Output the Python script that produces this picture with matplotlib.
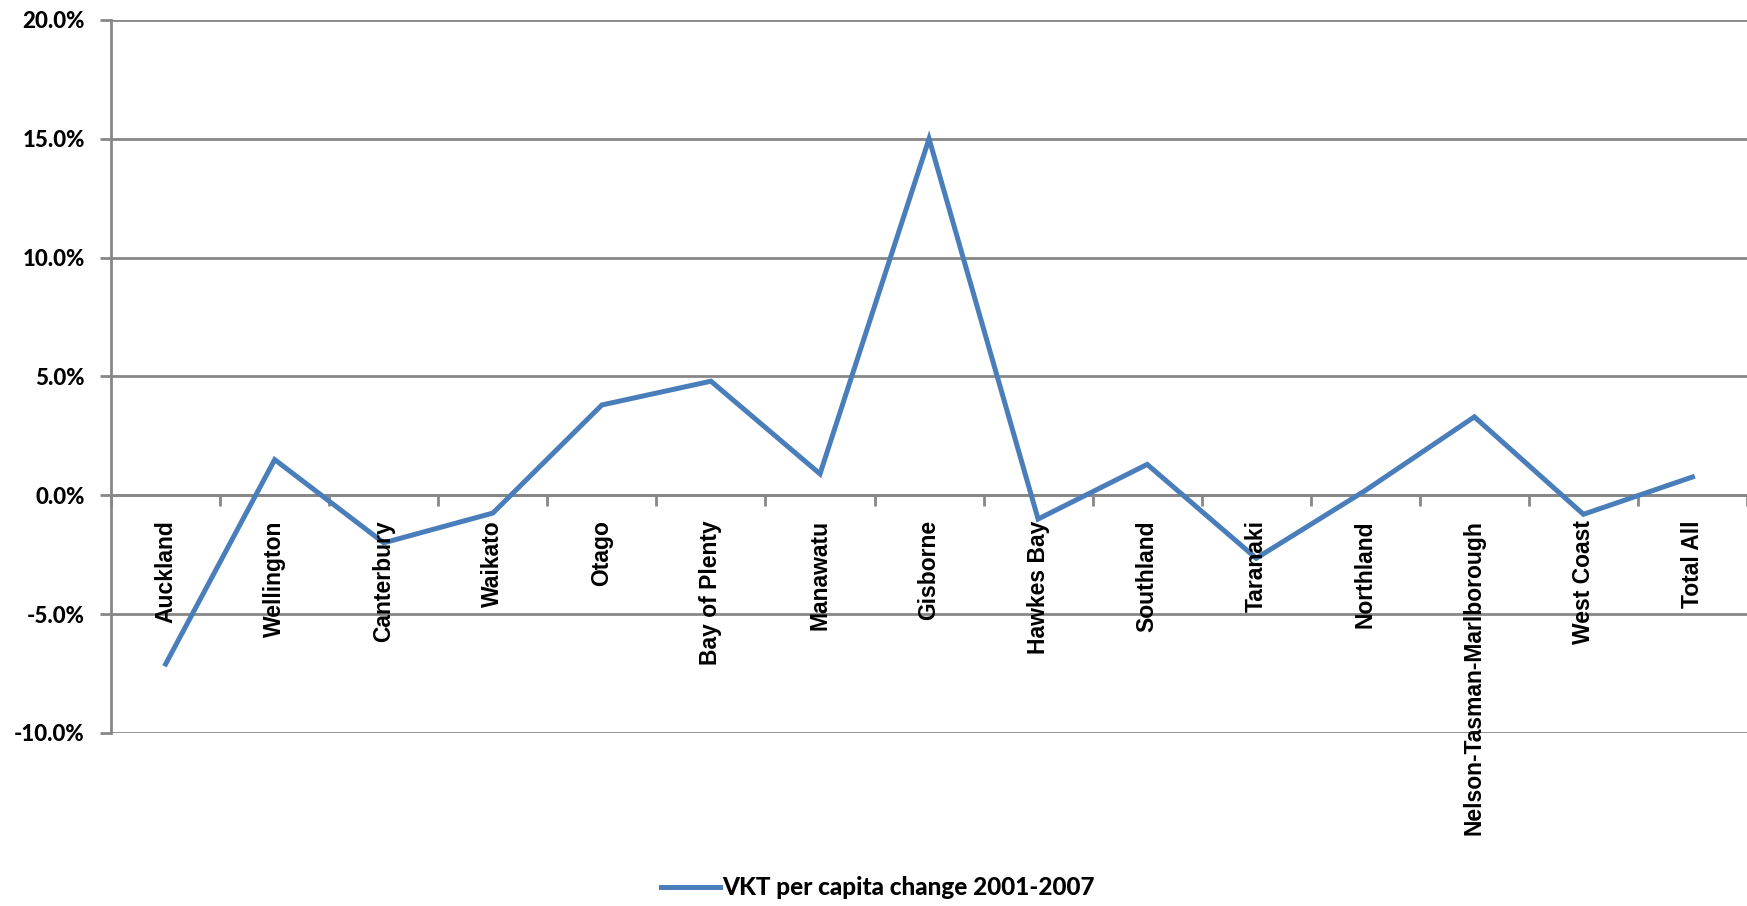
import matplotlib
matplotlib.use("Agg")
import matplotlib.pyplot as plt
from matplotlib.ticker import FuncFormatter, FixedLocator
from matplotlib.transforms import offset_copy

regions = ["Auckland", "Wellington", "Canterbury", "Waikato", "Otago",
           "Bay of Plenty", "Manawatu", "Gisborne", "Hawkes Bay", "Southland",
           "Taranaki", "Northland", "Nelson-Tasman-Marlborough", "West Coast",
           "Total All"]
vkt_change = [-7.1, 1.5, -2.0, -0.75, 3.8, 4.8, 0.9, 15.0, -1.0, 1.3,
              -2.65, 0.2, 3.3, -0.8, 0.77]
series_name = "VKT per capita change 2001-2007"
y_ticks = [-10, -5, 0, 5, 10, 15, 20]

grid_grey = "#878787"
line_blue = "#4A7EBB"

fig = plt.figure(figsize=(17.47, 9.06), dpi=100)
ax = fig.add_axes([0.0636, 0.191, 0.9364, 0.787])

x = list(range(len(regions)))
line, = ax.plot(x, vkt_change, color=line_blue, lw=3.6,
                solid_joinstyle="miter", label=series_name, zorder=3)

ax.set_xlim(-0.5, len(regions) - 0.5)
ax.set_ylim(y_ticks[0], y_ticks[-1])
ax.set_yticks(y_ticks)
ax.yaxis.set_major_formatter(FuncFormatter(lambda v, p: f"{v:.1f}%"))
ax.grid(axis="y", color=grid_grey, lw=2)
ax.set_axisbelow(True)

for s in ("top", "right"):
    ax.spines[s].set_visible(False)
ax.spines["left"].set_color(grid_grey)
ax.spines["left"].set_linewidth(2)
ax.spines["bottom"].set_position(("data", 0))
ax.spines["bottom"].set_color(grid_grey)
ax.spines["bottom"].set_linewidth(2)

ax.xaxis.set_major_locator(FixedLocator([i - 0.5 for i in range(len(regions) + 1)]))
ax.tick_params(axis="x", length=8, width=2, color=grid_grey, labelbottom=False)
ax.tick_params(axis="y", length=8, width=2, color=grid_grey, pad=11,
               labelsize=16)
for lab in ax.get_yticklabels():
    lab.set_fontweight("black")
    lab.set_family(["Lato", "DejaVu Sans"])

label_tf = offset_copy(ax.transData, fig=fig, y=-18, units="points")
for xi, name in zip(x, regions):
    ax.text(xi, 0, name, transform=label_tf, rotation=90, ha="center",
            va="top", fontsize=16.5, fontweight="bold",
            family=["Liberation Sans", "DejaVu Sans"])

fig.legend(handles=[line], loc="center", bbox_to_anchor=(0.5026, 0.02),
           frameon=False, handlelength=2.4, handletextpad=0.1,
           prop={"family": ["Lato", "DejaVu Sans"], "weight": "black",
                 "size": 17.5})

fig.savefig("out.png", dpi=100)
